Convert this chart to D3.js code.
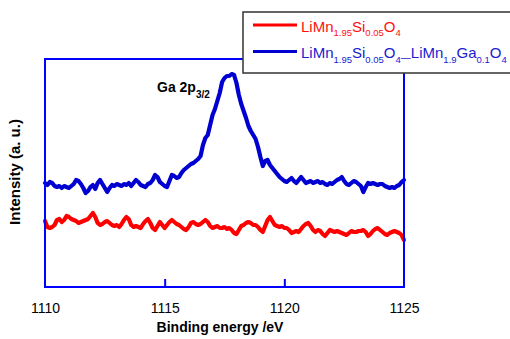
<!DOCTYPE html>
<html>
<head>
<meta charset="utf-8">
<script src="https://cdn.jsdelivr.net/npm/d3@7"></script>
<style>
  html, body { margin: 0; padding: 0; background: #fff; }
  svg { display: block; font-family: "Liberation Sans", Arial, sans-serif; }
</style>
</head>
<body>
<svg id="chart" width="510" height="339"></svg>
<script>
// Ga 2p XPS spectra, binding energy 1110–1125 eV sampled every 0.1 eV
const energyStart = 1110;
const energyStep = 0.1;

// LiMn1.95Si0.05O4 (arbitrary intensity units)
const siDoped = [
  66, 60, 59, 60, 62, 67, 68, 65, 67, 71,
  70, 68, 67, 66, 64, 65, 66, 67, 68, 71,
  74, 70, 64, 62, 63, 65, 66, 64, 62, 61,
  62, 60, 63, 67, 70, 68, 62, 60, 61, 60,
  59, 63, 66, 68, 64, 59, 57, 61, 65, 62,
  59, 62, 65, 67, 65, 63, 62, 60, 58, 57,
  60, 64, 65, 63, 62, 63, 65, 67, 65, 61,
  59, 60, 61, 59, 59, 60, 58, 59, 57, 54,
  53, 57, 61, 62, 64, 65, 64, 62, 62, 60,
  57, 55, 61, 67, 70, 66, 62, 61, 60, 61,
  59, 59, 57, 54, 55, 56, 55, 58, 61, 63,
  64, 61, 57, 55, 57, 56, 53, 51, 54, 57,
  56, 55, 56, 55, 54, 53, 52, 54, 56, 55,
  55, 56, 56, 57, 55, 51, 53, 56, 58, 59,
  57, 55, 53, 52, 54, 55, 56, 55, 54, 52,
  47
];

// LiMn1.95Si0.05O4–LiMn1.9Ga0.1O4 (arbitrary intensity units)
const gaCoated = [
  104, 102, 105, 104, 101, 100, 101, 99, 101, 100,
  99, 101, 103, 107, 106, 103, 99, 94, 96, 100,
  102, 98, 104, 107, 103, 99, 95, 99, 102, 101,
  103, 102, 101, 103, 102, 104, 101, 104, 107, 105,
  102, 101, 100, 103, 104, 107, 112, 110, 105, 103,
  101, 100, 106, 112, 111, 109, 110, 114, 117, 119,
  121, 123, 124, 126, 128, 131, 142, 149, 152, 162,
  172, 178, 186, 194, 205, 209, 211, 211, 213, 212,
  204, 192, 183, 176, 169, 161, 156, 152, 148, 140,
  130, 121, 126, 127, 122, 119, 116, 113, 110, 108,
  106, 105, 107, 109, 106, 104, 107, 110, 107, 104,
  105, 106, 104, 105, 106, 104, 105, 103, 102, 104,
  103, 105, 107, 108, 110, 106, 103, 102, 104, 106,
  105, 103, 101, 95, 100, 104, 103, 104, 103, 102,
  103, 103, 101, 100, 99, 100, 99, 101, 102, 105,
  107
];

const xTickValues = [1110, 1115, 1120, 1125];
const intensityDomain = [0, 228];

const series = [
  { name: "si", values: siDoped, color: "#ff0000" },
  { name: "ga", values: gaCoated, color: "#0000d0" }
];

const svg = d3.select("#chart");
const plot = { left: 45, right: 404, top: 59, bottom: 287 };

const x = d3.scaleLinear().domain([1110, 1125]).range([plot.left, plot.right]);
const y = d3.scaleLinear().domain(intensityDomain).range([plot.bottom, plot.top]);

const line = d3.line()
  .x((d, i) => x(energyStart + energyStep * i))
  .y(d => y(d));

// spectra
svg.append("g")
  .selectAll("path")
  .data(series)
  .join("path")
  .attr("d", d => line(d.values))
  .attr("fill", "none")
  .attr("stroke", d => d.color)
  .attr("stroke-width", 4.2)
  .attr("stroke-linejoin", "round")
  .attr("stroke-linecap", "round");

// plot frame
svg.append("rect")
  .attr("x", plot.left)
  .attr("y", plot.top)
  .attr("width", plot.right - plot.left)
  .attr("height", plot.bottom - plot.top)
  .attr("fill", "none")
  .attr("stroke", "#0000ff")
  .attr("stroke-width", 2);

// bottom axis with inward ticks
const xAxis = d3.axisBottom(x)
  .tickValues(xTickValues)
  .tickFormat(d3.format("d"))
  .tickSize(-8)
  .tickPadding(16);

const axisG = svg.append("g")
  .attr("transform", `translate(0,${plot.bottom})`)
  .call(xAxis);
axisG.select(".domain").remove();
axisG.selectAll(".tick line")
  .attr("stroke", "#0000ff")
  .attr("stroke-width", 2)
  .attr("display", d => (d === 1110 || d === 1125) ? "none" : null);
axisG.selectAll(".tick text")
  .attr("fill", "#000")
  .attr("font-size", 14)
  .attr("font-family", "Liberation Sans, Arial, sans-serif");

// axis titles
svg.append("text")
  .attr("x", 220)
  .attr("y", 332)
  .attr("text-anchor", "middle")
  .attr("font-size", 14)
  .attr("font-weight", "bold")
  .text("Binding energy /eV");

svg.append("text")
  .attr("transform", "translate(20,172) rotate(-90)")
  .attr("text-anchor", "middle")
  .attr("font-size", 15)
  .attr("font-weight", "bold")
  .text("Intensity (a. u.)");

// peak annotation
const peak = svg.append("text")
  .attr("x", 157)
  .attr("y", 92)
  .attr("font-size", 14)
  .attr("font-weight", "bold");
peak.append("tspan").text("Ga 2p");
peak.append("tspan").attr("font-size", 10).attr("dy", 6).text("3/2");

// legend
const legend = svg.append("g");
legend.append("rect")
  .attr("x", 243)
  .attr("y", 12)
  .attr("width", 280)
  .attr("height", 61)
  .attr("fill", "#fff")
  .attr("stroke", "#333")
  .attr("stroke-width", 1.5);

const legendRows = [
  { color: "#ff0000", textColor: "#ff1010", y: 25,
    parts: [["LiMn", 0], ["1.95", 1], ["Si", 0], ["0.05", 1], ["O", 0], ["4", 1]] },
  { color: "#0000d0", textColor: "#1a1ad0", y: 51.5,
    parts: [["LiMn", 0], ["1.95", 1], ["Si", 0], ["0.05", 1], ["O", 0], ["4", 1], ["—", 2],
            ["LiMn", 0], ["1.9", 1], ["Ga", 0], ["0.1", 1], ["O", 0], ["4", 1]] }
];

legendRows.forEach(row => {
  legend.append("line")
    .attr("x1", 253).attr("x2", 297)
    .attr("y1", row.y).attr("y2", row.y)
    .attr("stroke", row.color)
    .attr("stroke-width", 3);

  const t = legend.append("text")
    .attr("x", 301)
    .attr("y", row.y + 6.5)
    .attr("fill", row.textColor)
    .attr("font-size", 15);

  let level = 0; // 0 = baseline, 1 = subscript, 2 = dash
  row.parts.forEach(([str, kind]) => {
    const offsets = { 0: 0, 1: 4.5, 2: 3 };
    const dy = offsets[kind] - offsets[level];
    level = kind;
    t.append("tspan")
      .attr("dy", dy)
      .attr("font-size", kind === 0 ? 15 : (kind === 1 ? 9.5 : 10))
      .text(str);
  });
});
</script>
</body>
</html>
